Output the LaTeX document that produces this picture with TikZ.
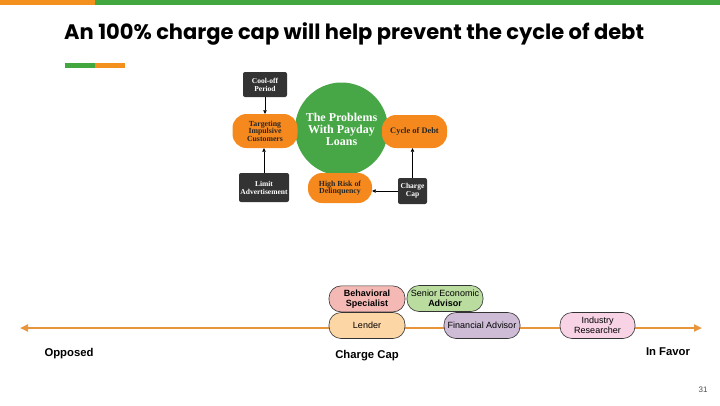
\documentclass[tikz,border=0pt]{standalone}
\usepackage{fontspec}
\setmainfont{Liberation Sans}
\newfontfamily\titlefont{Poppins}
\newfontfamily\serifdiag{Liberation Serif}
\usetikzlibrary{positioning, arrows.meta}
\definecolor{slidegreen}{HTML}{43A73F}
\definecolor{slideorange}{HTML}{F4901E}
\definecolor{hubgreen}{HTML}{47A646}
\definecolor{pillorange}{HTML}{F5891E}
\definecolor{boxdark}{HTML}{333333}
\definecolor{axisorange}{HTML}{E9953C}
\definecolor{fillbehav}{HTML}{F5B9B5}
\definecolor{fillsenior}{HTML}{BADC9F}
\definecolor{filllender}{HTML}{FDD6A6}
\definecolor{fillfin}{HTML}{CEBCD7}
\definecolor{fillind}{HTML}{F8D2E5}

\begin{document}
\begin{tikzpicture}[x=1pt, y=-1pt,
    darkbox/.style={
      fill=boxdark, rounded corners=2pt, text=white, align=center,
      inner sep=0.5pt, font=\serifdiag\bfseries\fontsize{7.5}{8}\selectfont
    },
    pill/.style={
      fill=pillorange, rounded corners=14pt, text=black!85, align=center,
      inner sep=1pt, font=\serifdiag\bfseries\fontsize{7.8}{7.6}\selectfont
    },
    hub/.style={
      circle, fill=hubgreen, text=white, align=center, minimum size=93pt,
      inner sep=0pt, font=\serifdiag\bfseries\fontsize{12}{12}\selectfont
    },
    stance/.style={
      draw=black!80, line width=0.6pt, rounded corners=12pt, align=center,
      minimum width=76pt, minimum height=26pt, inner sep=0.5pt,
      font=\fontsize{9}{10}\selectfont
    },
    arr/.style={-{Triangle[length=3.5pt, width=3.5pt]}, line width=0.6pt, black},
    spectrum/.style={
      {Triangle[length=8pt, width=7pt]}-{Triangle[length=8pt, width=7pt]},
      line width=2pt, axisorange
    },
    endlabel/.style={font=\bfseries\fontsize{11.3}{12}\selectfont},
  ]
    \useasboundingbox (0,0) rectangle (720,405);

    % slide frame
    \fill[slideorange] (0,0) rectangle (95,5);
    \fill[slidegreen] (95,0) rectangle (720,5);
    \node[anchor=west, inner sep=0pt, font=\titlefont\bfseries\fontsize{21}{24}\selectfont]
      (title) at (64,34) {An 100\% charge cap will help prevent the cycle of debt};
    \fill[slidegreen] (65,63) rectangle (95,68);
    \fill[slideorange] (95,63) rectangle (125,68);

    % problems diagram
    \node[hub] (hub) at (341.5,129) {The Problems\\With Payday\\Loans};
    \node[pill, minimum width=65pt, minimum height=34pt] (target) at (265,131)
      {Targeting\\Impulsive\\Customers};
    \node[pill, minimum width=65pt, minimum height=33pt, font=\serifdiag\bfseries\fontsize{8.4}{9}\selectfont]
      (cycle) at (414.5,131.5) {Cycle of Debt};
    \node[pill, minimum width=64pt, minimum height=30pt] (risk) at (340,188)
      {High Risk of\\Delinquency};
    \node[darkbox, minimum width=44pt, minimum height=25pt] (cool) at (265,84.5)
      {Cool-off\\Period};
    \node[darkbox, minimum width=50pt, minimum height=29pt] (limit) at (264,187.5)
      {Limit\\Advertisement};
    \node[darkbox, minimum width=29pt, minimum height=26pt] (cap) at (412.5,191)
      {Charge\\Cap};
    \draw[arr] (cool) -- (target);
    \draw[arr] (limit) -- (limit |- target.south);
    \draw[arr] (cap) -- (cap |- cycle.south);
    \draw[arr] (cap.west) -- (cap.west -| risk.east);

    % opinion spectrum
    \coordinate (opp) at (20,328);
    \coordinate (fav) at (702,328);
    \draw[spectrum] (opp) -- (fav);
    \node[stance, fill=filllender] (lender) at (367,325.5) {Lender};
    \node[stance, fill=fillbehav, above=0pt of lender] (behav)
      {\textbf{Behavioral}\\\textbf{Specialist}};
    \node[stance, fill=fillsenior] (senior) at (445,298.5)
      {Senior Economic\\\textbf{Advisor}};
    \node[stance, fill=fillfin] (finadv) at (482,325.5) {Financial Advisor};
    \node[stance, fill=fillind, minimum width=75pt] (industry) at (597.5,325.5)
      {Industry\\Researcher};

    \node[endlabel] (opposed) at (69,354) {Opposed};
    \node[endlabel] (cc) at (367,356) {Charge Cap};
    \node[endlabel] (favor) at (668,352) {In Favor};
    \node[text=black!70, font=\fontsize{8}{9}\selectfont] (page) at (703,390) {31};
\end{tikzpicture}
\end{document}
